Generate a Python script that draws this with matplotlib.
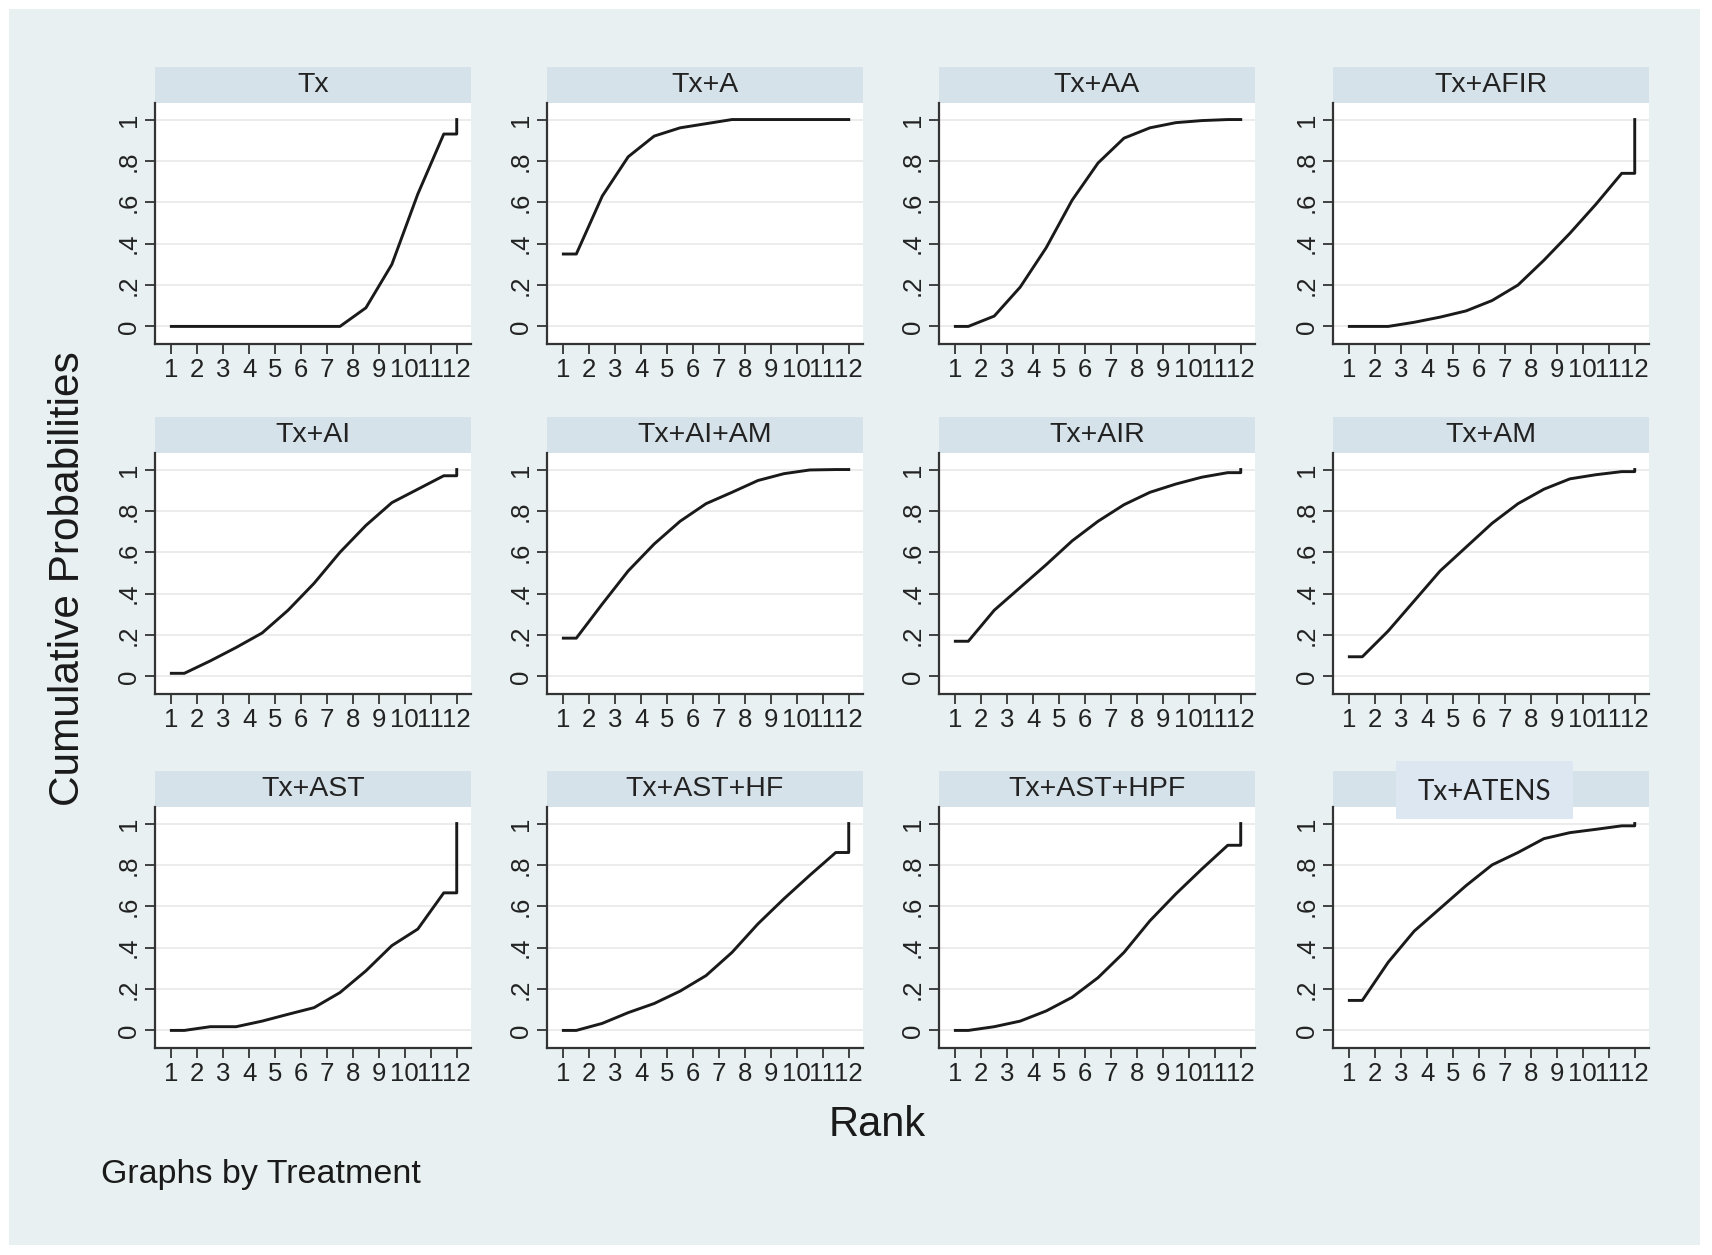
import matplotlib
matplotlib.use("Agg")
import matplotlib.pyplot as plt
import numpy as np
from matplotlib.patches import Rectangle

plt.rcParams['font.family'] = ['Liberation Sans', 'DejaVu Sans']

# cumulative ranking probabilities, ranks 1..12
ranks = np.arange(1, 13)
treatments = ["Tx", "Tx+A", "Tx+AA", "Tx+AFIR",
              "Tx+AI", "Tx+AI+AM", "Tx+AIR", "Tx+AM",
              "Tx+AST", "Tx+AST+HF", "Tx+AST+HPF", "Tx+ATENS"]

tx = [0, 0, 0, 0, 0, 0, 0, 0.09, 0.30, 0.64, 0.93, 1.0]
tx_a = [0.35, 0.63, 0.82, 0.92, 0.96, 0.98, 1.0, 1.0, 1.0, 1.0, 1.0, 1.0]
tx_aa = [0.0, 0.05, 0.19, 0.38, 0.61, 0.79, 0.91, 0.96, 0.985, 0.995, 1.0, 1.0]
tx_afir = [0, 0, 0.02, 0.045, 0.075, 0.125, 0.20, 0.32, 0.45, 0.59, 0.74, 1.0]
tx_ai = [0.015, 0.075, 0.14, 0.21, 0.32, 0.45, 0.60, 0.73, 0.84, 0.905, 0.97, 1.0]
tx_ai_am = [0.185, 0.35, 0.51, 0.64, 0.75, 0.835, 0.89, 0.947, 0.98, 0.998, 1.0, 1.0]
tx_air = [0.17, 0.32, 0.43, 0.54, 0.655, 0.75, 0.83, 0.89, 0.93, 0.963, 0.985, 1.0]
tx_am = [0.095, 0.22, 0.365, 0.51, 0.625, 0.74, 0.835, 0.905, 0.955, 0.975, 0.99, 1.0]
tx_ast = [0, 0.018, 0.018, 0.045, 0.078, 0.11, 0.183, 0.288, 0.41, 0.49, 0.665, 1.0]
tx_ast_hf = [0, 0.034, 0.086, 0.13, 0.19, 0.265, 0.377, 0.515, 0.636, 0.75, 0.86, 1.0]
tx_ast_hpf = [0, 0.018, 0.045, 0.094, 0.16, 0.255, 0.377, 0.53, 0.66, 0.78, 0.895, 1.0]
tx_atens = [0.145, 0.33, 0.48, 0.59, 0.70, 0.80, 0.86, 0.927, 0.956, 0.972, 0.989, 1.0]

series = [tx, tx_a, tx_aa, tx_afir, tx_ai, tx_ai_am, tx_air, tx_am,
          tx_ast, tx_ast_hf, tx_ast_hpf, tx_atens]

yticks = [0, 0.2, 0.4, 0.6, 0.8, 1.0]
ytick_labels = ["0", ".2", ".4", ".6", ".8", "1"]

W, H = 1712, 1255
fig = plt.figure(figsize=(W / 100, H / 100), dpi=100)
fig.patch.set_facecolor("white")

bg = "#e8f0f2"
strip_col = "#d6e2e9"
fig.patches.append(Rectangle((9 / W, 1 - 1245 / H), (1700 - 9) / W, (1245 - 9) / H,
                             transform=fig.transFigure, facecolor=bg,
                             edgecolor="none", zorder=-5))


def fr(x, y, w, h):
    # pixel box (top-left origin) -> figure fraction
    return [x / W, 1 - (y + h) / H, w / W, h / H]


col_x = [155, 547, 939, 1333]
row_y = [67, 417, 771]
pw, sh, ph = 316, 36, 241

for k, (name, vals) in enumerate(zip(treatments, series)):
    r, c = divmod(k, 4)
    x0, y0 = col_x[c], row_y[r]

    sax = fig.add_axes(fr(x0, y0, pw, sh))
    sax.set_facecolor(strip_col)
    sax.set_xticks([])
    sax.set_yticks([])
    for s in sax.spines.values():
        s.set_visible(False)

    if name == "Tx+ATENS":
        # label box pasted over the last strip
        fig.patches.append(Rectangle((1396 / W, 1 - 819 / H), 177 / W, 58 / H,
                                     transform=fig.transFigure, facecolor="#dde7f2",
                                     edgecolor="none", zorder=5))
        fig.text(1484.5 / W, 1 - 792 / H, name, ha="center", va="center",
                 fontsize=20, family=["Lato", "DejaVu Sans"], color="#222222", zorder=6)
    else:
        sax.text(0.5, 0.5, name, ha="center", va="center", fontsize=20.5,
                 color="#222222", transform=sax.transAxes)

    ax = fig.add_axes(fr(x0, y0 + sh, pw, ph))
    ax.set_facecolor("white")
    v = np.array(vals)
    xs = np.concatenate([[ranks[0]], ranks[:-1] + 0.5, [ranks[-1], ranks[-1]]])
    ys = np.concatenate([[v[0]], v[:-1], [v[-2], v[-1]]])
    ax.plot(xs, ys, color="#1a1a1a", lw=2.1, solid_joinstyle="round", zorder=3)
    ax.set_xlim(0.37, 12.55)
    ax.set_ylim(-0.085, 1.08)
    ax.set_xticks(ranks)
    ax.set_xticklabels([str(i) for i in ranks], fontsize=18.5, color="#222222")
    ax.set_yticks(yticks)
    ax.set_yticklabels(ytick_labels, fontsize=18.5, color="#222222",
                       rotation=90, va="center")
    ax.grid(axis="y", color="#ececec", lw=1.4)
    ax.set_axisbelow(True)
    ax.tick_params(direction="out", length=7, width=1.3, color="#333333", pad=3)
    for s in ["top", "right"]:
        ax.spines[s].set_visible(False)
    for s in ["left", "bottom"]:
        ax.spines[s].set_color("#333333")
        ax.spines[s].set_linewidth(1.6)

fig.text(68 / W, 1 - 579 / H, "Cumulative Probabilities", rotation=90,
         ha="center", va="center", fontsize=30.5, color="#1a1a1a")
fig.text(877 / W, 1 - 1125 / H, "Rank", ha="center", va="center",
         fontsize=30, color="#1a1a1a")
fig.text(101 / W, 1 - 1174 / H, "Graphs by Treatment", ha="left", va="center",
         fontsize=24.5, color="#1a1a1a")

fig.savefig("out.png", dpi=100, facecolor="white")
